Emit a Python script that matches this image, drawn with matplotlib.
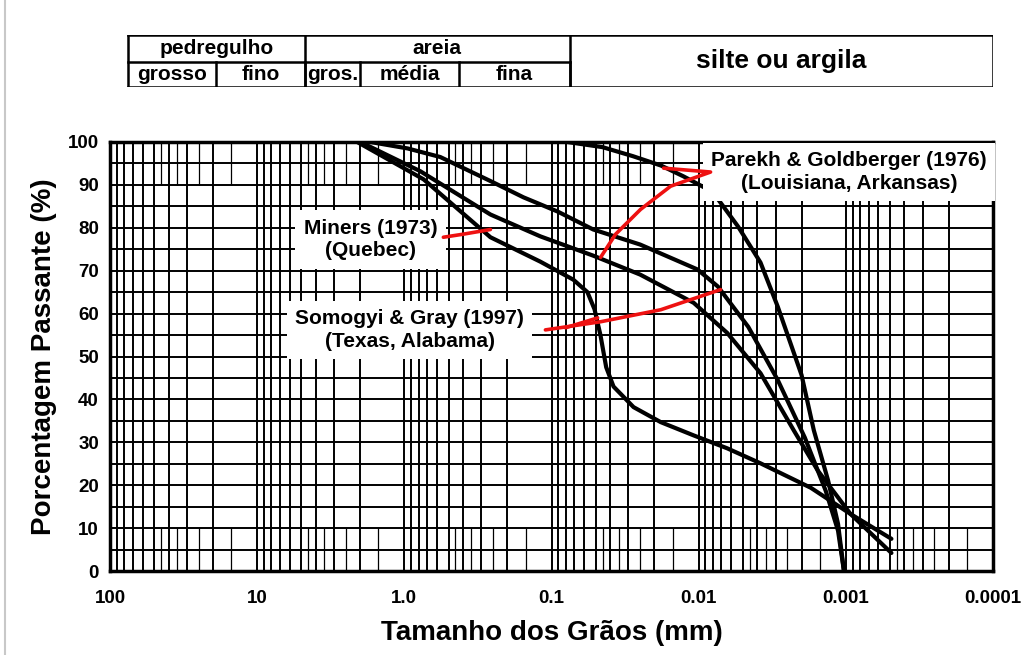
import numpy as np
import matplotlib.pyplot as plt
from matplotlib.ticker import FixedLocator, NullFormatter
from matplotlib.lines import Line2D

plt.rcParams['font.family'] = ['Liberation Sans', 'DejaVu Sans']
plt.rcParams['font.weight'] = 'bold'
plt.rcParams['axes.labelweight'] = 'bold'

# curvas granulometricas (diametro em mm, % passante)
parekh_d = [0.078, 0.045, 0.028, 0.018, 0.0127, 0.0087, 0.0074, 0.0054, 0.0038, 0.0029, 0.0020, 0.00165, 0.00132, 0.00113, 0.00103]
parekh_p = [100, 98.8, 96.7, 94.5, 92.0, 89.0, 86.7, 80.3, 71.9, 61.6, 45.7, 32.8, 21.1, 11.0, 0]

upper_d = [1.70, 0.95, 0.57, 0.26, 0.155, 0.091, 0.052, 0.025, 0.0102, 0.0074, 0.0046, 0.0029, 0.0019, 0.00137, 0.00113, 0.00103]
upper_p = [100, 98.5, 96.5, 90.9, 87.1, 83.8, 79.6, 76.1, 70.3, 66.3, 56.9, 44.5, 31.1, 18.7, 9.4, 0]

middle_d = [1.99, 0.78, 0.26, 0.119, 0.052, 0.025, 0.0108, 0.0064, 0.0038, 0.00226, 0.00155, 0.00093, 0.00049]
middle_p = [100, 93.2, 83.1, 78.0, 73.5, 69.1, 62.5, 55.5, 46.1, 32.8, 23.4, 13.3, 4.2]

lower_d = [2.09, 0.74, 0.26, 0.119, 0.071, 0.057, 0.051, 0.0465, 0.0425, 0.0379, 0.0277, 0.0181, 0.0108, 0.0064, 0.0038, 0.00173, 0.00093, 0.00049]
lower_p = [100, 91.3, 77.8, 72.1, 67.9, 65.0, 61.0, 55.0, 47.5, 43.0, 38.2, 34.7, 31.6, 28.6, 25.1, 19.4, 13.3, 7.5]

# setas vermelhas desenhadas a mao
miners_arrow_d = [0.543, 0.40, 0.26]
miners_arrow_p = [77.8, 78.5, 79.6]
parekh_arrow_d = [0.0173, 0.0083, 0.0155, 0.0248, 0.0367, 0.0464]
parekh_arrow_p = [93.9, 93.0, 89.7, 84.3, 78.5, 73.1]
somogyi_arrow_d = [0.110, 0.0464, 0.0181, 0.0071]
somogyi_arrow_p = [56.2, 58.1, 60.9, 65.6]
somogyi_branch_d = [0.0803, 0.0486]
somogyi_branch_p = [56.7, 59.0]

x_ticks = [100, 10, 1, 0.1, 0.01, 0.001, 0.0001]
x_labels = ['100', '10', '1.0', '0.1', '0.01', '0.001', '0.0001']
y_ticks = list(range(0, 101, 10))

# faixas da classificacao (limites em mm)
fracoes_sup = [('pedregulho', 75, 4.75), ('areia', 4.75, 0.075)]
fracoes_inf = [('grosso', 75, 19), ('fino', 19, 4.75), ('gros.', 4.75, 2.0),
               ('média', 2.0, 0.425), ('fina', 0.425, 0.075)]

W, H = 1035, 655
fig = plt.figure(figsize=(W / 100, H / 100), dpi=100)
fig.patch.set_facecolor('white')
fig.add_artist(Line2D([5 / W, 5 / W], [0, 1], color='#c8c8c8', lw=1.5))

ax = fig.add_axes([110 / W, 1 - 571 / H, (993 - 110) / W, (571 - 142) / H])
ax.set_xscale('log')
ax.set_xlim(100, 0.0001)
ax.set_ylim(0, 100)

# grade do papel semi-log
minors = [s * 10.0 ** k for k in range(-4, 2) for s in range(2, 10)]
ax.xaxis.set_major_locator(FixedLocator(x_ticks))
ax.xaxis.set_minor_locator(FixedLocator(minors))
ax.xaxis.set_minor_formatter(NullFormatter())
ax.set_xticklabels(x_labels)
ax.set_yticks(y_ticks)
ax.yaxis.set_minor_locator(FixedLocator(list(range(5, 100, 10))))
ax.grid(which='both', color='black', lw=1.4)
ax.set_axisbelow(True)

extras = [s * 10.0 ** k for k in range(-4, 2) for s in (1.5, 2.5, 3.5, 4.5)]
for xe in extras:
    ax.vlines(xe, 0, 10, color='black', lw=0.9)
    ax.vlines(xe, 90, 100, color='black', lw=0.9)

for sp in ax.spines.values():
    sp.set_linewidth(2.5)
    sp.set_color('black')

ax.tick_params(which='both', length=0)
ax.tick_params(axis='x', pad=14, labelsize=13.5)
ax.tick_params(axis='y', pad=8, labelsize=13.5)

for d, p in [(parekh_d, parekh_p), (upper_d, upper_p), (middle_d, middle_p), (lower_d, lower_p)]:
    ax.plot(d, p, color='black', lw=3, solid_capstyle='round', solid_joinstyle='round', zorder=3)

box = dict(facecolor='white', edgecolor='none', pad=6)
ax.text(1.70, 77.3, 'Miners (1973)\n(Quebec)', ha='center', va='center',
        fontsize=15, linespacing=1.25, bbox=box, zorder=4)
ax.text(0.00095, 93.0, 'Parekh & Goldberger (1976)\n(Louisiana, Arkansas)', ha='center', va='center',
        fontsize=15, linespacing=1.25, bbox=box, zorder=4)
ax.text(0.92, 56.2, 'Somogyi & Gray (1997)\n(Texas, Alabama)', ha='center', va='center',
        fontsize=15, linespacing=1.25, bbox=box, zorder=4)

red = '#ee1111'
for d, p in [(miners_arrow_d, miners_arrow_p), (parekh_arrow_d, parekh_arrow_p),
             (somogyi_arrow_d, somogyi_arrow_p), (somogyi_branch_d, somogyi_branch_p)]:
    ax.plot(d, p, color=red, lw=2.6, solid_capstyle='round', zorder=5)

ax.set_xlabel('Tamanho dos Grãos (mm)', fontsize=20, fontweight='bold', labelpad=9)
ax.set_ylabel('Porcentagem Passante (%)', fontsize=20, fontweight='bold', labelpad=8)

# tabela de classificacao acima do grafico
tab = fig.add_axes([110 / W, 1 - 87 / H, (993 - 110) / W, 52 / H])
tab.set_xscale('log')
tab.set_xlim(100, 0.0001)
tab.set_ylim(0, 1)
tab.axis('off')
lw = 1.8
split = 0.48
tab.plot([75, 0.0001], [1, 1], color='black', lw=lw)
tab.plot([75, 0.0001], [0, 0], color='black', lw=lw)
tab.plot([75, 0.075], [split, split], color='black', lw=lw)
tab.plot([75, 75], [0, 1], color='black', lw=lw)
tab.plot([0.0001, 0.0001], [0, 1], color='black', lw=lw)
for nome, a, b in fracoes_sup:
    tab.plot([b, b], [0, 1], color='black', lw=lw)
    tab.text(np.sqrt(a * b), (1 + split) / 2, nome, ha='center', va='center', fontsize=15)
for nome, a, b in fracoes_inf:
    tab.plot([b, b], [0, split], color='black', lw=lw)
    tab.text(np.sqrt(a * b), split / 2, nome, ha='center', va='center', fontsize=15)
tab.text(np.sqrt(0.075 * 0.0001), 0.5, 'silte ou argila', ha='center', va='center', fontsize=19)

fig.savefig('out.png', dpi=100, facecolor='white')
